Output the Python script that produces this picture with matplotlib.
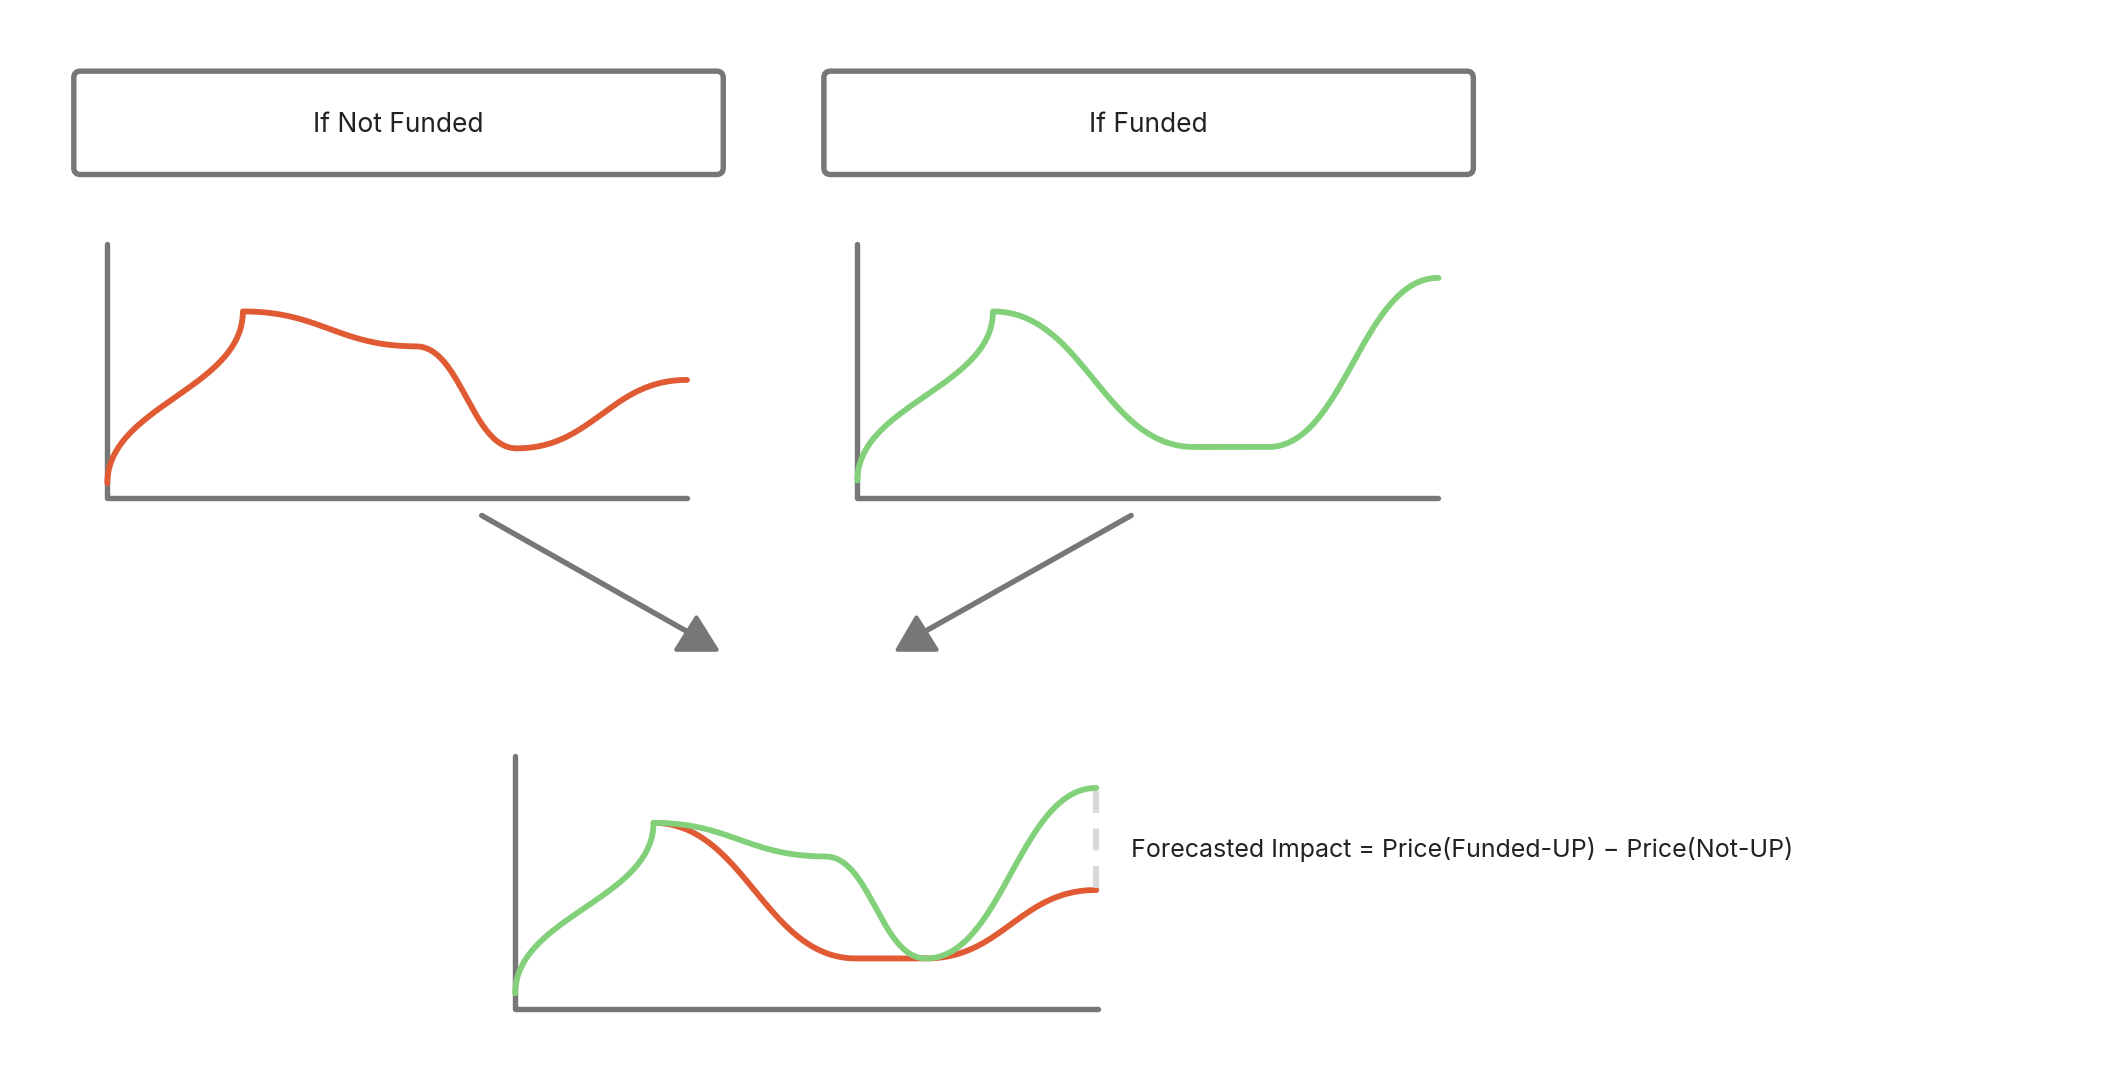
import matplotlib
matplotlib.use("Agg")
import matplotlib.pyplot as plt
import numpy as np
from matplotlib.patches import FancyBboxPatch, Polygon

plt.rcParams['font.family'] = ['Inter', 'DejaVu Sans']

titles = ["If Not Funded", "If Funded"]
formula = "Forecasted Impact = Price(Funded-UP) \u2212 Price(Not-UP)"

# key points of each curve (diagram units, y downward)
red_top_x = [80, 181, 310, 385, 512]
red_top_y = [360, 232, 258, 334, 283]
green_top_x = [639, 740, 890, 945, 1072]
green_top_y = [358, 232, 333, 333, 207]
green_bot_x = [384, 487, 615, 690, 817]
green_bot_y = [740, 613, 638, 714, 587]
red_bot_x = [487, 638, 690, 817]
red_bot_y = [613, 714, 714, 663]

RED = "#E05A33"; GREEN = "#82D17A"; GRAY = "#777777"

def bez(p0, p1, p2, p3, n=80):
    t = np.linspace(0, 1, n)[:, None]
    return ((1-t)**3*np.array(p0) + 3*(1-t)**2*t*np.array(p1)
            + 3*(1-t)*t**2*np.array(p2) + t**3*np.array(p3))

def curve(xs, ys, first_vertical=True):
    pts = []
    for i in range(len(xs)-1):
        x0, y0, x1, y1 = xs[i], ys[i], xs[i+1], ys[i+1]
        if i == 0 and first_vertical:
            d = (y1 - y0) * 0.45
            seg = bez((x0, y0), (x0, y0+d), (x1, y1-d), (x1, y1))
        else:
            d = (x1 - x0) * 0.45
            seg = bez((x0, y0), (x0+d, y0), (x1-d, y1), (x1, y1))
        pts.append(seg)
    p = np.vstack(pts)
    return p[:, 0], p[:, 1]

fig = plt.figure(figsize=(21.04, 10.9), dpi=100)
ax = fig.add_axes([0, 0, 1, 1])
ax.set_xlim(0, 1568); ax.set_ylim(812, 0); ax.axis('off')

# boxes
for x0, t in zip([55, 614], titles):
    ax.add_patch(FancyBboxPatch((x0, 53), 484, 77, boxstyle="round,pad=0,rounding_size=5",
                                fill=False, ec=GRAY, lw=3.9))
    ax.text(x0+242, 93, t, ha='center', va='center', fontsize=19, color='#222222')

# axes
for ox, oy, w in [(80, 371, 432), (639, 371, 433), (384, 752, 434)]:
    ax.plot([ox, ox, ox+w], [oy-189, oy, oy], color=GRAY, lw=3.9,
            solid_capstyle='round', solid_joinstyle='round')

lw = 4.2
ax.plot(*curve(red_top_x, red_top_y), color=RED, lw=lw, solid_capstyle='round')
ax.plot(*curve(green_top_x, green_top_y), color=GREEN, lw=lw, solid_capstyle='round')
ax.plot(*curve(red_bot_x, red_bot_y, first_vertical=False), color=RED, lw=lw, solid_capstyle='round')
ax.plot(*curve(green_bot_x, green_bot_y), color=GREEN, lw=lw, solid_capstyle='round')

# arrows
ax.plot([359, 513], [384, 471], color=GRAY, lw=3.9, solid_capstyle='round')
ax.add_patch(Polygon([(504, 484), (534, 484), (519, 460)], closed=True, fc=GRAY, ec=GRAY, lw=3, joinstyle='round'))
ax.plot([843, 690], [384, 470], color=GRAY, lw=3.9, solid_capstyle='round')
ax.add_patch(Polygon([(669, 484), (698, 484), (683, 460)], closed=True, fc=GRAY, ec=GRAY, lw=3, joinstyle='round'))

# dashed difference
ax.plot([817, 817], [589, 662], color="#d9d9d9", lw=4.5, dashes=(3.5, 2.5), solid_capstyle='round')
ax.text(843, 633, formula, ha='left', va='center', fontsize=18, color='#222222')

fig.savefig("out.png", dpi=100)
